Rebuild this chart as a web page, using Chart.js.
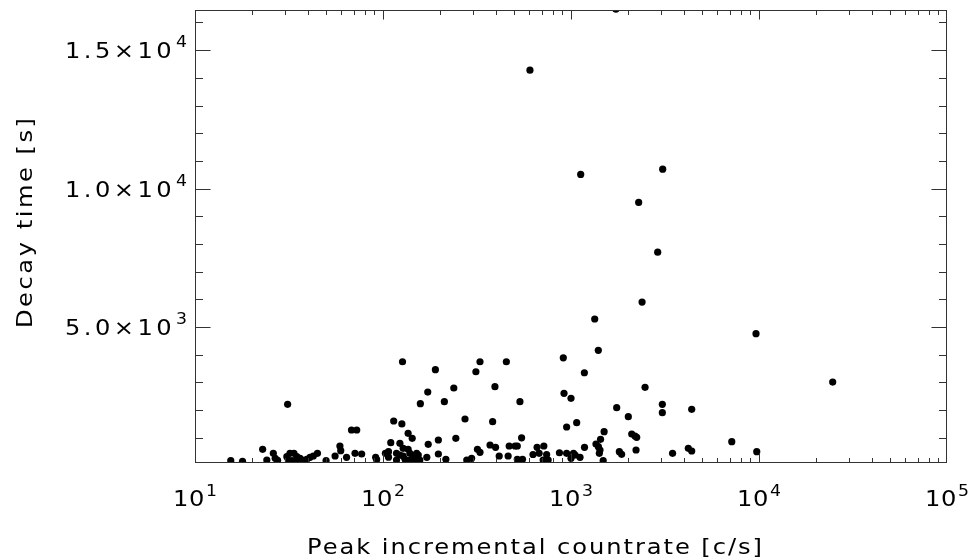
<!DOCTYPE html>
<html><head><meta charset="utf-8">
<script src="https://cdn.jsdelivr.net/npm/chart.js@4"></script>
<style>html,body{margin:0;padding:0;background:#fff}</style>
</head><body>
<canvas id="c" width="973" height="558"></canvas>
<script>
// ---- data ----
const countrate = [1734,605,1126,3074,2291,2891,2388,1337,9640,1397,910,1178,24660,2477,918,1000,127,190,328,312,453,173,238,394,31.1,158,212,535,1750,2018,3061,3061,4386,273,383,68,72.5,114,126,136,143,948,1072,1500,1436,2104,2190,2236,7165,9727,4207,4386,3470,2218,1808,1859,1483,1358,1398,1426,1415,1180,868,948,1031,1052,1117,1000,711,756,677,742,660,717,628,518,552,546,469,504,518,415,463,371,397,318,328,279,296,216,197,244,197,174,171,136,139,145,154,128,131,139,148,157,123,128,118,123,110,103,107,151,118,91.4,71,77,64,59,59.6,55.6,49.8,44.8,40.9,42.6,39.3,30.8,32,33.6,34.8,36.2,31.4,32.7,34.4,22.9,24.1,26.1,26.7,15.5,17.9,27.5,37.7,92.5,107];
const decayTime = [16480,14277,10512,10703,9500,7705,5900,5290,4760,4160,3890,3350,3012,2822,2605,2425,3747,3460,3747,3386,3747,2652,2798,2845,2210,2231,2303,2303,2087,1762,2209,1906,2029,1679,1581,1281,1281,1606,1500,1162,982,1390,1545,1220,946,1137,1065,1018,859,498,621,523,440,560,498,405,173,776,679,560,440,657,460,440,440,379,296,260,198,198,440,397,657,704,397,224,224,1000,704,704,704,343,343,740,657,585,476,198,260,224,415,982,920,765,296,585,440,343,379,343,224,198,198,198,801,621,440,379,823,440,498,440,198,296,440,415,296,704,535,343,173,440,296,343,224,318,440,440,318,260,173,173,173,585,198,440,260,173,150,190,190,210,300];
const xTickValues = [10,100,1000,10000,100000];
const xTickBase = ['10','10','10','10','10'];
const xTickExp = ['1','2','3','4','5'];
const yTickValues = [5000,10000,15000];
const yTickBase = ['5.0\u00D710','1.0\u00D710','1.5\u00D710'];
const yTickExp = ['3','4','4'];
const xTitle = 'Peak incremental countrate [c/s]';
const yTitle = 'Decay time [s]';
const xRange = [10, 100000];
const yRange = [90, 16450];

const points = countrate.map((v, i) => ({x: v, y: decayTime[i]}));
const FONT = '"DejaVu Sans", sans-serif';
const SX = 1.15;
const WEIGHT = '400';

function drawStr(ctx, s, x, y, size, ls, align, rot) {
  ctx.save();
  ctx.translate(x, y);
  if (rot) ctx.rotate(rot);
  ctx.scale(SX, 1);
  ctx.font = WEIGHT + ' ' + size + 'px ' + FONT;
  ctx.letterSpacing = ls + 'px';
  ctx.textAlign = align || 'left';
  ctx.textBaseline = 'alphabetic';
  ctx.fillStyle = '#000';
  ctx.fillText(s, 0, 0);
  ctx.restore();
}
function strW(ctx, s, size, ls) {
  ctx.save();
  ctx.font = WEIGHT + ' ' + size + 'px ' + FONT;
  ctx.letterSpacing = ls + 'px';
  const w = ctx.measureText(s).width * SX;
  ctx.restore();
  return w;
}
function fitSpacing(ctx, s, size, target) {
  const w = strW(ctx, s, size, 0);
  return (target - w) / (s.length - 1) / SX;
}

const axesPlugin = {
  id: 'idlAxes',
  afterDraw(chart) {
    const ctx = chart.ctx;
    const a = chart.chartArea;
    const xs = chart.scales.x, ys = chart.scales.y;
    ctx.save();
    ctx.strokeStyle = '#333';
    ctx.lineWidth = 1;
    const L = Math.round(a.left) + 0.5, R = Math.round(a.right) - 0.5;
    const T = Math.round(a.top) + 0.5, B = Math.round(a.bottom) - 0.5;
    ctx.strokeRect(L, T, R - L, B - T);
    const xMaj = 0.02 * (a.bottom - a.top), yMaj = 0.02 * (a.right - a.left);
    ctx.beginPath();
    for (let d = 0; d < xTickValues.length; d++) {
      const dec = xTickValues[d];
      for (let m = 1; m <= 9; m++) {
        const v = dec * m;
        if (v > xRange[1]) break;
        let px = Math.round(xs.getPixelForValue(v)) + 0.5;
        px = Math.min(Math.max(px, L), R);
        const len = m === 1 ? xMaj : xMaj / 2;
        ctx.moveTo(px, B); ctx.lineTo(px, B - len);
        ctx.moveTo(px, T); ctx.lineTo(px, T + len);
      }
    }
    for (let v = 1000; v <= yRange[1]; v += 1000) {
      if (v < yRange[0]) continue;
      const py = Math.round(ys.getPixelForValue(v)) + 0.5;
      const len = v % 5000 === 0 ? yMaj : yMaj / 2;
      ctx.moveTo(L, py); ctx.lineTo(L + len, py);
      ctx.moveTo(R, py); ctx.lineTo(R - len, py);
    }
    ctx.stroke();
    ctx.restore();

    const big = 21, small = 15;
    for (let i = 0; i < xTickValues.length; i++) {
      const px = xs.getPixelForValue(xTickValues[i]);
      const wb = strW(ctx, xTickBase[i], big, 0.5);
      const we = strW(ctx, xTickExp[i], small, 0);
      const total = wb + 1 + we;
      const x0 = px - total / 2;
      const base = a.bottom + 43;
      drawStr(ctx, xTickBase[i], x0, base, big, 0.5);
      drawStr(ctx, xTickExp[i], x0 + wb + 1, base - 10, small, 0);
    }
    for (let i = 0; i < yTickValues.length; i++) {
      const py = ys.getPixelForValue(yTickValues[i]);
      const we = strW(ctx, yTickExp[i], small, 0);
      const right = a.left - 8;
      const wb = strW(ctx, yTickBase[i], big, 3);
      drawStr(ctx, yTickBase[i], right - we - 1 - wb, py + 8, big, 3);
      drawStr(ctx, yTickExp[i], right - we, py - 3, small, 0);
    }
    const lsX = fitSpacing(ctx, xTitle, big, 455);
    drawStr(ctx, xTitle, 307, 554, big, lsX, 'left');
    const lsY = fitSpacing(ctx, yTitle, big, 210);
    drawStr(ctx, yTitle, 32, 223 + 105, big, lsY, 'left', -Math.PI / 2);
  }
};

new Chart(document.getElementById('c'), {
  type: 'scatter',
  data: { datasets: [{
    data: points,
    backgroundColor: '#000',
    borderWidth: 0,
    pointRadius: 3.6,
    pointHoverRadius: 3.6,
    clip: 0
  }]},
  options: {
    responsive: false,
    animation: false,
    devicePixelRatio: 1,
    layout: { padding: { left: 195, right: 26, top: 10, bottom: 95 } },
    plugins: { legend: { display: false }, tooltip: { enabled: false }, title: { display: false } },
    scales: {
      x: { type: 'logarithmic', display: false, min: xRange[0], max: xRange[1] },
      y: { type: 'linear', display: false, min: yRange[0], max: yRange[1] }
    }
  },
  plugins: [axesPlugin]
});
</script>
</body></html>
